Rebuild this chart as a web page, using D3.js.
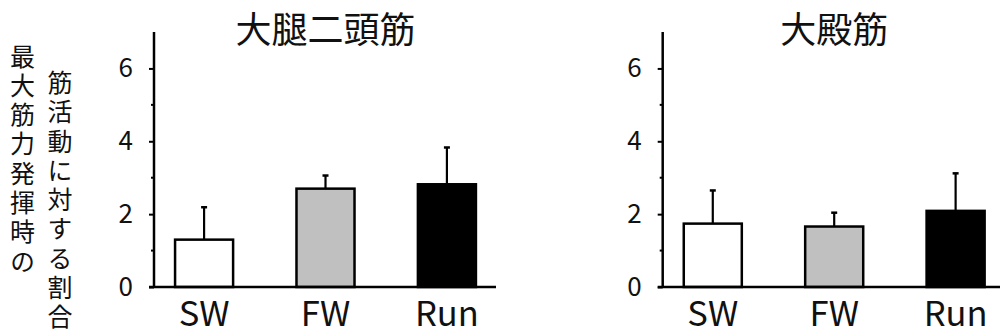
<!DOCTYPE html>
<html><head><meta charset="utf-8">
<script src="https://cdn.jsdelivr.net/npm/d3@7"></script>
<style>
html,body{margin:0;padding:0;background:#fff;}
svg{display:block;}
text{font-family:"Noto Sans CJK JP","Noto Sans",sans-serif;fill:#111;}
</style></head>
<body>
<svg id="chart" width="1000" height="336"></svg>
<script>
const categories = ["SW", "FW", "Run"];
const panelTitles = ["大腿二頭筋", "大殿筋"];
const hamstringMeans = [1.30, 2.70, 2.82];
const hamstringSD = [0.89, 0.36, 1.01];
const gluteMeans = [1.74, 1.66, 2.09];
const gluteSD = [0.91, 0.38, 1.03];
const yTicks = [0, 2, 4, 6];
const yMinorTicks = [1, 3, 5];
const yLabelLines = ["最大筋力発揮時の", "筋活動に対する割合"];
const fills = ["#ffffff", "#c0c0c0", "#000000"];

const svg = d3.select("#chart");
const y = d3.scaleLinear().domain([0, 7]).range([287, 32]);

const panels = [
  {title: panelTitles[0], means: hamstringMeans, sd: hamstringSD, axisX: 154, lineEnd: 342},
  {title: panelTitles[1], means: gluteMeans, sd: gluteSD, axisX: 662.7, lineEnd: 345}
];

panels.forEach(p => {
  const g = svg.append("g").attr("transform", `translate(${p.axisX},0)`);
  const x = d3.scaleBand().domain(categories).range([21 - 31.5, 322 + 31.5])
    .paddingInner(0.522).paddingOuter(0.26);
  const bw = x.bandwidth();
  const data = categories.map((c, i) => ({c, m: p.means[i], s: p.sd[i], f: fills[i]}));

  // error bars (upper)
  g.selectAll("line.err").data(data).join("line")
    .attr("x1", d => x(d.c) + bw / 2).attr("x2", d => x(d.c) + bw / 2)
    .attr("y1", d => y(d.m)).attr("y2", d => y(d.m + d.s))
    .attr("stroke", "#000").attr("stroke-width", 2.2);
  g.selectAll("line.cap").data(data).join("line")
    .attr("x1", d => x(d.c) + bw / 2 - 3).attr("x2", d => x(d.c) + bw / 2 + 3)
    .attr("y1", d => y(d.m + d.s)).attr("y2", d => y(d.m + d.s))
    .attr("stroke", "#000").attr("stroke-width", 2.5);

  // bars
  g.selectAll("rect.bar").data(data).join("rect")
    .attr("x", d => x(d.c)).attr("width", bw)
    .attr("y", d => y(d.m)).attr("height", d => y(0) - y(d.m))
    .attr("fill", d => d.f).attr("stroke", "#000").attr("stroke-width", 2.5);

  // y axis
  const ax = g.append("g").call(d3.axisLeft(y).tickValues(yTicks).tickSize(5).tickPadding(16).tickFormat(d3.format("d")));
  ax.attr("font-size", 26).attr("font-family", '"Noto Sans CJK JP","Noto Sans",sans-serif');
  ax.select(".domain").remove();
  ax.selectAll(".tick line").attr("stroke", "#000").attr("stroke-width", 2);
  ax.selectAll(".tick text").attr("font-size", 26).attr("fill", "#111");
  g.selectAll("line.minor").data(yMinorTicks).join("line")
    .attr("x1", -3).attr("x2", 0).attr("y1", d => y(d)).attr("y2", d => y(d))
    .attr("stroke", "#000").attr("stroke-width", 2);
  g.append("line").attr("x1", 0).attr("x2", 0).attr("y1", y(7)).attr("y2", y(0))
    .attr("stroke", "#000").attr("stroke-width", 2.5);
  // baseline
  g.append("line").attr("x1", -5).attr("x2", p.lineEnd).attr("y1", y(0)).attr("y2", y(0))
    .attr("stroke", "#000").attr("stroke-width", 2.5);

  // category labels
  g.selectAll("text.cat").data(categories).join("text")
    .attr("x", d => x(d) + bw / 2).attr("y", 326)
    .attr("text-anchor", "middle").attr("font-size", 34.5).text(d => d);

  // title
  g.append("text").attr("x", (x(categories[0]) + x(categories[2]) + bw) / 2).attr("y", 43)
    .attr("text-anchor", "middle").attr("font-size", 36).text(p.title);
});

// vertical y label
const yl = svg.append("g");
yl.selectAll("text").data(yLabelLines).join("text")
  .attr("x", (d, i) => i === 0 ? 22.5 : 60)
  .attr("y", (d, i) => i === 0 ? 43.5 : 70)
  .attr("writing-mode", "vertical-rl")
  .style("writing-mode", "vertical-rl")
  .attr("font-size", 25)
  .style("letter-spacing", "4.3px")
  .text(d => d);
</script>
</body></html>
